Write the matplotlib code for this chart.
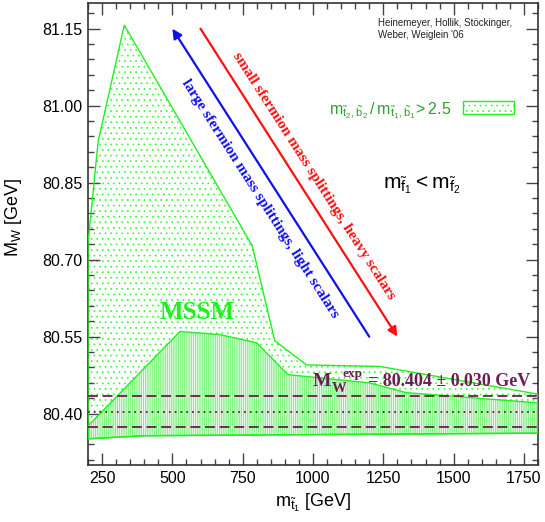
import matplotlib
matplotlib.use("Agg")
import matplotlib.pyplot as plt
from matplotlib.patches import Polygon, Rectangle
from matplotlib.ticker import MultipleLocator, FixedLocator
import numpy as np

plt.rcParams['font.family'] = ['Liberation Sans', 'DejaVu Sans']
plt.rcParams['hatch.linewidth'] = 0.45

# ---- data ----
outer_x = [200, 236, 329, 784, 864, 977, 1237, 1800, 1800, 400, 200]
outer_y = [80.732, 80.93, 81.157, 80.727, 80.542, 80.495, 80.492, 80.438, 80.362, 80.357, 80.351]
inner_x = [200, 527, 669, 800, 911, 1201, 1331, 1800, 1800, 400, 200]
inner_y = [80.376, 80.560, 80.554, 80.538, 80.476, 80.460, 80.441, 80.421, 80.362, 80.357, 80.351]
mw_exp = 80.404
mw_err = 0.030
blue_arrow = [(1200, 80.55), (500, 81.15)]
red_arrow = [(600, 81.15), (1300, 80.55)]
xticks = [250, 500, 750, 1000, 1250, 1500, 1750]
yticks = [80.40, 80.55, 80.70, 80.85, 81.00, 81.15]

fig = plt.figure(figsize=(5.45, 5.22), dpi=100)
ax = fig.add_axes([88/545, 57/522, 450/545, 462/522])
ax.set_xlim(200, 1800)
ax.set_ylim(80.30, 81.20)

lime = '#22ee22'
# outer region: sparse dots
ax.add_patch(Polygon(list(zip(outer_x, outer_y)), closed=True, facecolor='white',
                     edgecolor='#22ff22', hatch='...', linewidth=0, zorder=1))
ax.add_patch(Polygon(list(zip(outer_x, outer_y)), closed=True, fill=False,
                     edgecolor=lime, linewidth=1.0, zorder=3))
# inner region: dense vertical lines
ax.add_patch(Polygon(list(zip(inner_x, inner_y)), closed=True, facecolor='#e8fbe8',
                     edgecolor='#44f044', hatch='|' * 9, linewidth=0, zorder=2))
ax.add_patch(Polygon(list(zip(inner_x, inner_y)), closed=True, fill=False,
                     edgecolor=lime, linewidth=1.0, zorder=3))

# experimental band
maroon = '#6b1d52'
ax.axhline(mw_exp + mw_err, color=maroon, lw=1.3, dashes=(5.5, 2.6), zorder=4)
ax.axhline(mw_exp - mw_err, color=maroon, lw=1.3, dashes=(5.5, 2.6), zorder=4)
ax.axhline(mw_exp, color=maroon, lw=1.3, linestyle=(0, (1, 2.2)), zorder=4)

serif_bold = dict(family=['Liberation Serif', 'DejaVu Serif'], weight='bold')
ax.text(999, 80.453, 'M', color=maroon, fontsize=14, ha='left', va='baseline',
        zorder=5, **serif_bold)
ax.text(1068, 80.443, 'W', color=maroon, fontsize=10.5, ha='left', va='baseline',
        zorder=5, **serif_bold)
ax.text(1106, 80.471, 'exp', color=maroon, fontsize=9.5, ha='left', va='baseline',
        zorder=5, **serif_bold)
ax.text(1196, 80.453, '= 80.404 ± 0.030 GeV', color=maroon, fontsize=13,
        ha='left', va='baseline', zorder=5, **serif_bold)

# arrows
ax.annotate('', xy=blue_arrow[1], xytext=blue_arrow[0],
            arrowprops=dict(arrowstyle='-|>', color='#1010ee', lw=1.6,
                            mutation_scale=14, shrinkA=0, shrinkB=0), zorder=5)
ax.annotate('', xy=red_arrow[1], xytext=red_arrow[0],
            arrowprops=dict(arrowstyle='-|>', color='#ff1010', lw=1.6,
                            mutation_scale=14, shrinkA=0, shrinkB=0), zorder=5)
ax.text(810, 80.819, 'large sfermion mass splittings, light scalars', color='#1010ee',
        fontsize=11, rotation=-57.4, rotation_mode='anchor', ha='center', va='center',
        zorder=5, **serif_bold)
ax.text(1003, 80.863, 'small sfermion mass splittings, heavy scalars', color='#ff1010',
        fontsize=11, rotation=-57.4, rotation_mode='anchor', ha='center', va='center',
        zorder=5, **serif_bold)

ax.text(589, 80.597, 'MSSM', color='#22ee22', fontsize=18, ha='center', va='center',
        zorder=5, **serif_bold)

# legend
ax.add_patch(Rectangle((1535, 80.984), 178, 0.026, facecolor='white', edgecolor='#22ff22',
                       hatch='...', linewidth=0, zorder=5))
ax.add_patch(Rectangle((1535, 80.984), 178, 0.026, fill=False, edgecolor=lime,
                       linewidth=1.0, zorder=6))
ax.text(1492, 80.9826,
        r'$\mathregular{m_{\tilde{t}_2,\tilde{b}_2}\,/\,m_{\tilde{t}_1,\tilde{b}_1}\!> 2.5}$',
        color='#2e9e2e', fontsize=11.5, ha='right', va='baseline', zorder=6)

ax.text(1248, 80.839, r'$\mathregular{m_{\tilde{f}_1} < m_{\tilde{f}_2}}$', color='black',
        fontsize=15, ha='left', va='baseline', zorder=6)

ax.text(1230, 81.155, 'Heinemeyer, Hollik, Stöckinger,', fontsize=7, ha='left',
        va='baseline', color='#222222', zorder=6)
ax.text(1230, 81.131, "Weber, Weiglein '06", fontsize=7, ha='left',
        va='baseline', color='#222222', zorder=6)

# axes styling
ax.xaxis.set_major_locator(FixedLocator(xticks))
ax.xaxis.set_minor_locator(MultipleLocator(50))
ax.yaxis.set_major_locator(FixedLocator(yticks))
ax.yaxis.set_minor_locator(MultipleLocator(0.03))
ax.set_xticklabels([str(t) for t in xticks])
ax.set_yticklabels([f'{t:.2f}' for t in yticks])
ax.tick_params(which='both', direction='in', top=True, right=True, color='#444444',
               width=1.0, labelsize=11.5, labelcolor='black')
ax.tick_params(which='major', length=8.6, pad=4)
ax.tick_params(which='minor', length=4.3)
for s in ax.spines.values():
    s.set_linewidth(1.2)
    s.set_color('#333333')

ax.set_xlabel(r'$\mathregular{m_{\tilde{t}_1}}$ [GeV]', fontsize=13)
ax.set_ylabel(r'$\mathregular{M_W}$ [GeV]', fontsize=13)
ax.yaxis.set_label_coords(-0.142, 0.535)
ax.xaxis.set_label_coords(0.50, -0.058)

fig.savefig('out.png', dpi=100)
